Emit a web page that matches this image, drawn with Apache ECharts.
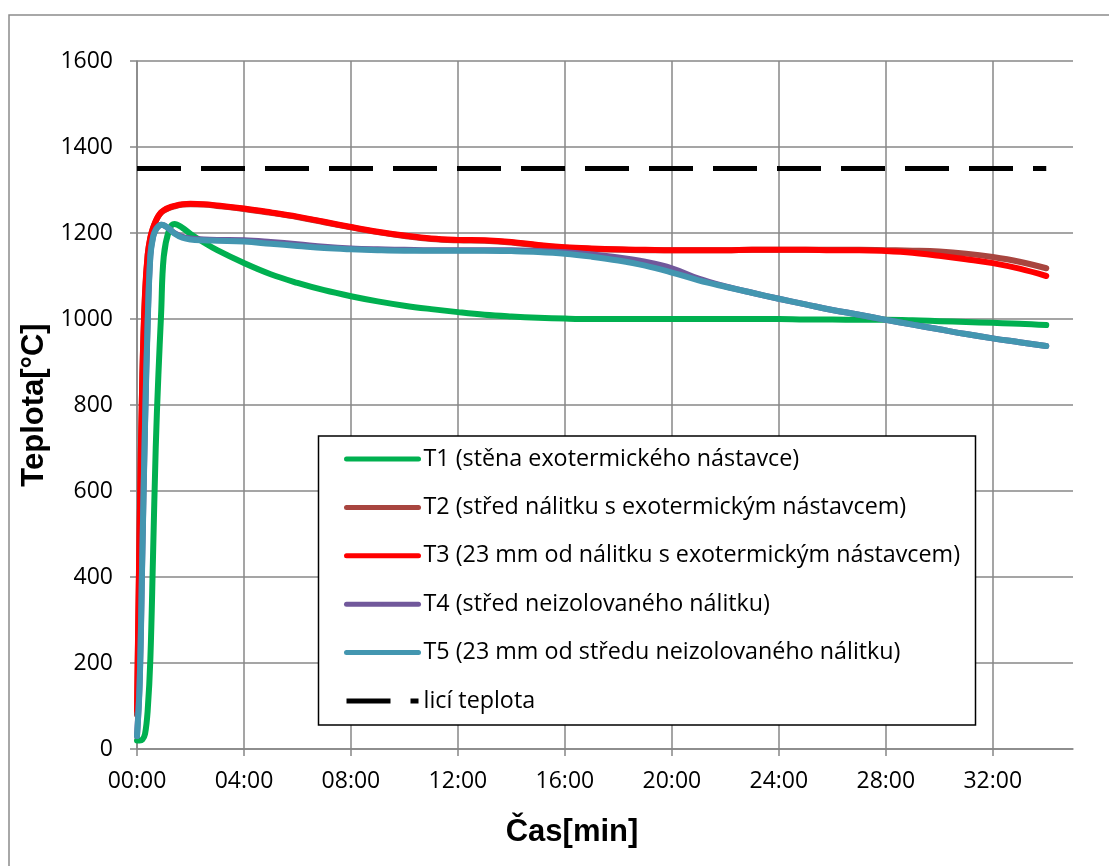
<!DOCTYPE html>
<html><head><meta charset="utf-8">
<script src="https://cdn.jsdelivr.net/npm/echarts@6/dist/echarts.min.js"></script>
<style>html,body{margin:0;padding:0;background:#fff}#c{width:1109px;height:866px}</style>
</head><body><div id="c"></div>
<script>
// time in minutes
const times = [0, 0.1, 0.2, 0.3, 0.4, 0.5, 0.6, 0.7, 0.8, 0.9, 1.0, 1.2, 1.4, 1.7, 2, 2.5, 3, 4, 5, 6, 7, 8, 9, 10, 11, 12, 13, 14, 15, 16, 17, 18, 19, 20, 21, 22, 23, 24, 25, 26, 27, 28, 29, 30, 31, 32, 33, 34];
const t1 = [20, 20, 22, 35, 90, 210, 450, 700, 870, 1010, 1145, 1207, 1221, 1212, 1198, 1178, 1160, 1130, 1104, 1084, 1067, 1053, 1041, 1031, 1023, 1016, 1010, 1006, 1003, 1001, 1000, 1000, 1000, 1000, 1000, 1000, 1000, 1000, 999, 999, 998, 998, 997, 995, 993, 991, 989, 986];
const t2 = [80, 510, 865, 1055, 1148, 1188, 1211, 1227, 1239, 1247, 1252, 1258, 1262, 1266, 1267, 1266, 1263, 1256, 1247, 1237, 1225, 1213, 1202, 1193, 1186, 1183, 1182, 1178, 1171, 1166, 1163, 1161, 1160, 1160, 1160, 1160, 1161, 1161, 1161, 1161, 1161, 1160, 1159, 1157, 1152, 1144, 1133, 1118];
const t3 = [90, 520, 870, 1060, 1150, 1190, 1212, 1228, 1240, 1248, 1253, 1259, 1263, 1267, 1268, 1267, 1264, 1257, 1248, 1238, 1226, 1214, 1203, 1194, 1187, 1184, 1183, 1179, 1172, 1167, 1164, 1162, 1161, 1160, 1160, 1160, 1161, 1161, 1161, 1160, 1160, 1158, 1154, 1147, 1139, 1130, 1117, 1100];
const t4 = [30, 160, 460, 760, 1000, 1150, 1192, 1208, 1216, 1219, 1218, 1210, 1200, 1191, 1187, 1185, 1184, 1183, 1179, 1174, 1168, 1164, 1162, 1161, 1160, 1160, 1160, 1160, 1158, 1155, 1150, 1143, 1133, 1118, 1094, 1076, 1061, 1047, 1034, 1021, 1010, 998, 987, 976, 965, 955, 946, 937];
const t5 = [30, 150, 450, 750, 990, 1145, 1190, 1207, 1215, 1219, 1218, 1210, 1199, 1189, 1185, 1183, 1182, 1180, 1175, 1170, 1165, 1162, 1160, 1159, 1159, 1159, 1159, 1158, 1156, 1152, 1145, 1136, 1124, 1108, 1090, 1075, 1061, 1047, 1034, 1021, 1010, 998, 987, 976, 965, 955, 946, 937];
const castTimes = [0, 34];
const castVals = [1350, 1350];
const xTicks = [0, 4, 8, 12, 16, 20, 24, 28, 32];
const seriesNames = [
  'T1 (stěna exotermického nástavce)',
  'T2 (střed nálitku s exotermickým nástavcem)',
  'T3 (23 mm od nálitku s exotermickým nástavcem)',
  'T4 (střed neizolovaného nálitku)',
  'T5 (23 mm od středu neizolovaného nálitku)',
  'licí teplota'
];
const colors = ['#00B050', '#A8453F', '#FF0000', '#71589B', '#4396B0', '#000000'];

const pairs = (xs, ys) => xs.map((x, i) => [x, ys[i]]);
const tempSeries = [t1, t2, t3, t4, t5];

const chart = echarts.init(document.getElementById('c'), null, {renderer: 'canvas'});
const gridColor = '#878787';
const tickFont = {fontFamily: 'Open Sans', fontSize: 23, color: '#000'};
const series = tempSeries.map((vals, i) => ({
  name: seriesNames[i], type: 'line', data: pairs(times, vals),
  symbol: 'none', smooth: 0.4,
  lineStyle: {width: 6, color: colors[i], cap: 'round', join: 'round'},
  itemStyle: {color: colors[i]}, z: 2 + i * 0.01
}));
series.push({
  name: seriesNames[5], type: 'line', data: pairs(castTimes, castVals),
  symbol: 'none',
  lineStyle: {width: 5, color: '#000', type: [44, 20]},
  itemStyle: {color: '#000'}, z: 2.1
});

chart.setOption({
  animation: false,
  backgroundColor: '#fff',
  color: colors,
  grid: {left: 137, right: 36, top: 61, bottom: 117, containLabel: false},
  xAxis: {
    type: 'value', min: 0, max: 35, interval: 4,
    name: 'Čas[min]', nameLocation: 'middle', nameGap: 68,
    nameTextStyle: {fontFamily: 'Liberation Sans', fontWeight: 'bold', fontSize: 31, color: '#000', padding: [0, 66, 0, 0]},
    axisLine: {show: true, lineStyle: {color: gridColor, width: 1.5}},
    axisTick: {show: true, inside: false, length: 7, lineStyle: {color: gridColor, width: 1.5}, customValues: xTicks},
    axisLabel: Object.assign({margin: 21, customValues: xTicks,
      formatter: v => String(v).padStart(2, '0') + ':00'}, tickFont),
    splitLine: {show: true, lineStyle: {color: gridColor, width: 1.5}}
  },
  yAxis: {
    type: 'value', min: 0, max: 1600, interval: 200,
    name: 'Teplota[°C]', nameLocation: 'middle', nameGap: 63,
    nameTextStyle: {fontFamily: 'Liberation Sans', fontWeight: 'bold', fontSize: 31, color: '#000'},
    axisLine: {show: true, lineStyle: {color: gridColor, width: 1.5}},
    axisTick: {show: true, inside: false, length: 7, lineStyle: {color: gridColor, width: 1.5}},
    axisLabel: Object.assign({margin: 24, formatter: v => String(v)}, tickFont),
    splitLine: {show: true, lineStyle: {color: gridColor, width: 1.5}}
  },
  legend: {
    orient: 'vertical', left: 344, top: 447, padding: 0,
    itemWidth: 72, itemHeight: 2, itemGap: 24.4,
    lineStyle: {width: 5},
    textStyle: {fontFamily: 'Open Sans', fontSize: 23.3, color: '#000', lineHeight: 24},
    data: seriesNames
  },
  graphic: [
    {type: 'rect', shape: {x: 9, y: 15, width: 1200, height: 1000}, style: {fill: null, stroke: '#8c8c8c', lineWidth: 1.5}, z: 0, silent: true},
    {type: 'rect', shape: {x: 318.5, y: 436, width: 657, height: 289}, style: {fill: '#fff', stroke: '#000', lineWidth: 1.5}, z: 3, silent: true}
  ],
  series: series
});
</script>
</body></html>
